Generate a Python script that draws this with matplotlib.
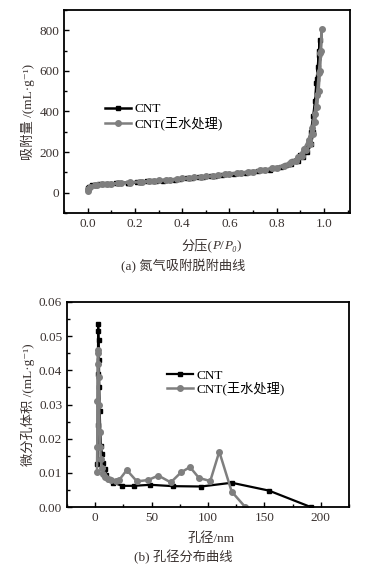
import numpy as np
import matplotlib
matplotlib.use("Agg")
import matplotlib.pyplot as plt
from matplotlib.ticker import MultipleLocator
from matplotlib.offsetbox import TextArea, HPacker, AnchoredOffsetbox

# (a) nitrogen adsorption / desorption isotherm
p_cnt = [0.0, 0.005, 0.02, 0.05, 0.09, 0.13, 0.17, 0.21, 0.25, 0.29, 0.34, 0.39,
         0.44, 0.49, 0.54, 0.59, 0.64, 0.69, 0.74, 0.79, 0.84, 0.87, 0.90, 0.92,
         0.935, 0.945, 0.955, 0.962, 0.968, 0.974, 0.979, 0.983,
         0.978, 0.972, 0.965, 0.955, 0.945, 0.93, 0.91, 0.89, 0.86, 0.82,
         0.77, 0.72, 0.67, 0.62, 0.57, 0.52, 0.47, 0.42, 0.37, 0.32, 0.27,
         0.22, 0.17, 0.12, 0.07, 0.03]
v_cnt = [22, 30, 38, 41, 44, 47, 50, 53, 56, 59, 63, 68,
         73, 78, 84, 90, 96, 103, 111, 121, 138, 155, 185, 215,
         255, 300, 380, 450, 540, 620, 700, 750,
         680, 560, 420, 300, 240, 200, 175, 158, 140, 125,
         114, 106, 99, 93, 87, 81, 75, 70, 65, 60, 56,
         52, 49, 46, 43, 39]
p_acid = [0.0, 0.003, 0.01, 0.03, 0.06, 0.10, 0.14, 0.18, 0.22, 0.26, 0.30, 0.35,
          0.40, 0.45, 0.50, 0.55, 0.60, 0.65, 0.70, 0.75, 0.80, 0.85, 0.88, 0.905,
          0.925, 0.94, 0.952, 0.962, 0.97, 0.977, 0.983, 0.988, 0.99,
          0.985, 0.978, 0.97, 0.96, 0.95, 0.935, 0.915, 0.89, 0.86, 0.83,
          0.78, 0.73, 0.68, 0.63, 0.58, 0.53, 0.48, 0.43, 0.38, 0.33, 0.28,
          0.23, 0.18, 0.13, 0.08, 0.04]
v_acid = [8, 20, 30, 37, 41, 45, 48, 51, 54, 57, 61, 65,
          70, 75, 80, 85, 91, 97, 104, 112, 122, 140, 158, 180,
          210, 240, 290, 350, 420, 500, 600, 700, 805,
          690, 590, 480, 390, 320, 260, 215, 175, 150, 133,
          120, 111, 103, 96, 90, 84, 78, 73, 68, 63, 58,
          54, 50, 47, 44, 40]

# (b) pore size distribution
d_cnt = [2.0, 2.2, 2.4, 2.6, 2.8, 3.0, 3.3, 3.6, 4.0, 4.5, 5.0, 6.0, 7.0,
         8.5, 10, 12, 16, 24, 34, 49, 69, 94, 121, 154, 191]
dv_cnt = [0.0125, 0.024, 0.039, 0.0535, 0.0515, 0.049, 0.043, 0.035, 0.028,
          0.022, 0.018, 0.0155, 0.013, 0.011, 0.0095, 0.0083, 0.0071, 0.0062,
          0.0062, 0.0065, 0.0061, 0.0060, 0.0071, 0.0048, 0.0]
d_acid = [1.6, 1.8, 2.0, 2.2, 2.5, 2.8, 3.1, 3.5, 4.0, 4.5, 5.0, 6.0, 7.0,
          9.0, 11, 14, 18, 21, 28, 37, 47, 56, 67, 76, 84, 92, 102, 110,
          121, 133]
dv_acid = [0.0102, 0.0175, 0.031, 0.042, 0.046, 0.045, 0.038, 0.030, 0.022,
           0.0175, 0.014, 0.0115, 0.0098, 0.0088, 0.0082, 0.0079, 0.0075,
           0.0078, 0.0108, 0.0075, 0.0079, 0.0092, 0.0072, 0.0101, 0.0117,
           0.0085, 0.0076, 0.0162, 0.0045, 0.0]

labels = ["CNT", "CNT(王水处理)"]

fams = ["Liberation Serif", "Noto Sans CJK SC", "DejaVu Serif"]
plt.rcParams["font.family"] = fams
txt = "#3a3230"
fs = 9.5

fig = plt.figure(figsize=(3.67, 5.68), dpi=100)
W, H = 367, 568
ax1 = fig.add_axes([64 / W, 1 - 213 / H, 286 / W, 203 / H])
ax2 = fig.add_axes([67 / W, 1 - 507 / H, 282 / W, 205 / H])

ax1.plot(p_cnt, v_cnt, color="black", marker="s", ms=3, lw=1.8, label=labels[0])
ax1.plot(p_acid, v_acid, color="#7f7f7f", marker="o", ms=4, lw=1.8, label=labels[1])
ax1.set_xlim(-0.1, 1.11)
ax1.set_ylim(-100, 900)
ax1.xaxis.set_minor_locator(MultipleLocator(0.1))
ax1.yaxis.set_minor_locator(MultipleLocator(100))
ax1.set_yticks([0, 200, 400, 600, 800])
ax1.set_xticks([0.0, 0.2, 0.4, 0.6, 0.8, 1.0])
ax1.set_xticklabels(["0.0", "0.2", "0.4", "0.6", "0.8", "1.0"])
ax1.set_ylabel("吸附量 /(mL·g⁻¹)", fontsize=fs, color=txt, labelpad=3)
ax1.legend(loc="center left", bbox_to_anchor=(0.143, 0.475), frameon=False,
           fontsize=fs, handlelength=2.0, handletextpad=0.25, borderpad=0,
           borderaxespad=0, labelspacing=0.1)

# x label with italic P
parts = [("分压(", "normal"), ("P", "italic"), ("/", "normal"),
         ("P₀", "italic"), (")", "normal")]
boxes = [TextArea(t, textprops=dict(fontsize=fs, color=txt, family=fams, style=st))
         for t, st in parts]
xl = AnchoredOffsetbox(loc="center", child=HPacker(children=boxes, align="baseline",
                                                   pad=0, sep=0),
                       bbox_to_anchor=(211 / W, 1 - 245 / H),
                       bbox_transform=fig.transFigure, frameon=False, pad=0, borderpad=0)
fig.add_artist(xl)
fig.text(0.5, 1 - 266 / H, "(a) 氮气吸附脱附曲线", ha="center", va="center",
         fontsize=fs, color=txt)

ax2.plot(d_cnt, dv_cnt, color="black", marker="s", ms=3, lw=1.6, label=labels[0])
ax2.plot(d_acid, dv_acid, color="#7f7f7f", marker="o", ms=4, lw=1.8, label=labels[1])
ax2.set_xlim(-25, 225)
ax2.set_ylim(0, 0.06)
ax2.xaxis.set_minor_locator(MultipleLocator(25))
ax2.yaxis.set_minor_locator(MultipleLocator(0.005))
ax2.set_xticks([0, 50, 100, 150, 200])
yt = np.arange(0, 0.061, 0.01)
ax2.set_yticks(yt)
ax2.set_yticklabels(["%.2f" % v for v in yt])
ax2.set_ylabel("微分孔体积 /(mL·g⁻¹)", fontsize=fs, color=txt, labelpad=3)
ax2.legend(loc="center left", bbox_to_anchor=(0.355, 0.606), frameon=False,
           fontsize=fs, handlelength=2.0, handletextpad=0.25, borderpad=0,
           borderaxespad=0, labelspacing=0.0)
fig.text(211 / W, 1 - 538 / H, "孔径/nm", ha="center", va="center",
         fontsize=fs, color=txt)
fig.text(0.5, 1 - 557 / H, "(b) 孔径分布曲线", ha="center", va="center",
         fontsize=fs, color=txt)

for ax in (ax1, ax2):
    ax.tick_params(which="both", direction="in", top=False, right=False,
                   labelsize=fs, labelcolor=txt)
    ax.tick_params(which="major", length=3.5, width=1)
    ax.tick_params(which="minor", length=2, width=1)
    for s in ax.spines.values():
        s.set_linewidth(1.3)

fig.savefig("out.png", dpi=100)
